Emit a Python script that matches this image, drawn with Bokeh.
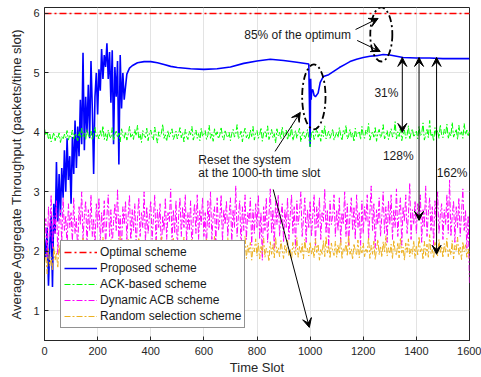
from bokeh.plotting import figure
from bokeh.models import Range1d, Legend, LegendItem, Arrow, VeeHead, Label, FixedTicker
from bokeh.embed import file_html
from bokeh.resources import INLINE

# ---------------- data ----------------
x_ticks = [0, 200, 400, 600, 800, 1000, 1200, 1400, 1600]
y_ticks = [1, 2, 3, 4, 5, 6]

opt_x = [0, 1600]
opt_y = [6.0, 6.0]

prop_x = [0, 5, 10, 15, 20, 25, 30, 35, 40, 45, 50, 55, 60, 65, 70, 75, 80, 85, 90, 95,
          100, 105, 110, 115, 120, 125, 130, 135, 140, 145, 150, 155, 160, 165, 170, 175, 180, 185, 190, 195,
          200, 205, 210, 215, 220, 225, 230, 235, 240, 245, 250, 255, 260, 265, 270, 275, 280, 285, 290, 295,
          300, 310, 320, 330, 350, 375, 400, 425, 450, 475, 500, 550, 600, 650, 700, 750, 800, 850, 900, 950, 995,
          1000, 1002, 1004, 1006, 1010, 1015, 1020, 1030, 1038, 1050, 1070, 1090, 1110, 1130, 1150, 1175, 1200,
          1225, 1250, 1275, 1300, 1350, 1400, 1450, 1500, 1550, 1600]
prop_y = [2.20, 1.90, 2.40, 1.42, 2.10, 2.60, 1.40, 2.80, 2.30, 3.50, 2.50, 3.30, 2.60, 3.40, 2.90, 3.70, 3.00, 3.90, 3.20, 3.60,
          2.80, 3.92, 3.30, 4.20, 3.40, 4.10, 3.60, 4.55, 3.80, 5.34, 3.70, 4.60, 4.00, 4.80, 3.90, 5.20, 4.40, 3.30, 4.60, 5.00,
          4.30, 5.06, 4.70, 5.40, 4.90, 5.30, 5.10, 5.50, 4.90, 5.35, 4.50, 5.38, 3.80, 5.10, 4.60, 5.20, 3.46, 5.30, 4.40, 5.00,
          4.55, 4.98, 5.08, 5.12, 5.17, 5.19, 5.19, 5.17, 5.14, 5.11, 5.09, 5.07, 5.06, 5.07, 5.10, 5.16, 5.20, 5.23, 5.21, 5.18, 5.15,
          3.76, 4.90, 4.55, 4.70, 4.72, 4.62, 4.60, 4.66, 4.84, 4.94, 4.97, 5.03, 5.09, 5.14, 5.19, 5.23, 5.26,
          5.28, 5.29, 5.31, 5.30, 5.26, 5.25, 5.25, 5.24, 5.24, 5.24]

slot = list(range(0, 1601, 5))

ack = [4.06, 3.95, 4.02, 3.88, 3.97, 3.84, 3.92, 4.00, 3.86, 3.94, 3.90, 3.99, 3.83, 3.93, 3.88, 3.97, 3.91, 4.03, 3.87, 3.96,
       3.92, 4.04, 3.89, 3.98, 3.94, 3.86, 4.01, 3.90, 4.07, 3.93, 3.99, 3.88, 4.05, 3.95, 3.91, 4.02, 3.87, 3.97, 4.09, 3.92,
       3.96, 3.89, 4.03, 3.93, 4.11, 3.88, 3.98, 3.85, 4.04, 3.94, 3.90, 4.08, 3.86, 3.97, 4.02, 3.91, 3.99, 3.84, 4.06, 3.95,
       3.90, 4.01, 3.87, 3.96, 4.10, 3.92, 3.98, 3.88, 4.05, 3.94, 4.12, 3.89, 3.97, 3.83, 4.03, 3.95, 3.91, 4.07, 3.86, 3.99,
       4.04, 3.92, 3.87, 4.09, 3.95, 3.82, 4.01, 3.93, 3.98, 4.14, 3.90, 3.96, 3.85, 4.03, 3.92, 3.99, 4.06, 3.88, 3.94, 4.02,
       3.89, 3.97, 4.08, 3.91, 3.99, 3.84, 4.05, 3.93, 3.88, 4.02, 3.96, 4.10, 3.87, 3.95, 4.04, 3.90, 3.98, 3.86, 4.07, 3.93,
       3.97, 4.03, 3.88, 3.95, 4.12, 3.90, 3.99, 3.85, 4.06, 3.94, 4.01, 3.89, 3.96, 4.09, 3.92, 3.87, 4.04, 3.95, 3.91, 4.00,
       3.86, 3.98, 4.05, 3.92, 3.97, 4.13, 3.89, 3.94, 4.02, 3.84, 3.99, 4.07, 3.91, 3.96, 3.88, 4.04, 3.93, 4.10, 3.87, 3.98,
       4.03, 3.90, 3.96, 4.08, 3.85, 3.99, 4.02, 3.92, 4.11, 3.88, 3.95, 4.05, 3.91, 3.98, 3.82, 4.06, 3.94, 4.00, 3.89, 4.09,
       3.93, 3.97, 4.04, 3.87, 3.99, 3.92, 4.10, 3.86, 3.95, 4.03, 3.90, 3.98, 4.07, 3.84, 3.96, 4.01, 3.89, 3.94, 4.05, 3.91,
       3.76, 3.98, 4.03, 3.88, 3.95, 4.08, 3.92, 3.99, 3.85, 4.04, 3.93, 4.11, 3.89, 3.96, 4.02, 3.90, 3.97, 4.06, 3.87, 3.94,
       4.00, 3.91, 4.08, 3.95, 3.86, 4.03, 3.97, 4.12, 3.89, 3.94, 4.05, 3.92, 3.99, 3.84, 4.07, 3.93, 3.98, 4.02, 3.88, 4.10,
       3.95, 3.90, 4.04, 3.97, 4.15, 3.87, 3.96, 4.01, 3.92, 4.08, 3.85, 3.99, 4.05, 3.91, 3.97, 4.13, 3.89, 3.94, 4.03, 3.88,
       3.98, 4.06, 3.92, 3.96, 4.18, 3.89, 4.01, 3.93, 4.09, 3.86, 3.97, 4.04, 3.90, 3.95, 4.11, 3.88, 3.99, 4.06, 3.92, 3.97,
       4.02, 3.89, 4.10, 3.94, 3.98, 4.16, 3.87, 3.96, 4.05, 3.91, 4.20, 3.93, 3.99, 3.85, 4.08, 3.95, 4.03, 3.90, 4.13, 3.96,
       3.91, 4.05, 3.97, 4.14, 3.89, 4.00, 3.94, 4.17, 3.92, 3.98, 4.06, 3.88, 4.12, 3.95, 4.01, 3.90, 4.15, 3.96, 4.04, 3.93,
       4.02]

dyn_acb = [2.10, 2.55, 1.90, 2.75, 2.25, 2.95, 2.05, 2.60, 2.30, 2.85, 1.95, 2.50, 2.70, 2.15, 2.90, 2.35, 2.60, 2.05, 2.80, 2.40,
           2.65, 2.15, 2.90, 2.30, 2.55, 2.00, 2.75, 2.45, 3.00, 2.20, 2.60, 2.85, 2.10, 2.70, 2.35, 2.95, 2.25, 2.55, 2.05, 2.80,
           2.40, 2.90, 2.15, 2.65, 2.30, 2.85, 2.05, 2.60, 2.95, 2.25, 2.70, 2.10, 2.50, 2.80, 2.35, 3.05, 2.20, 2.60, 2.00, 2.75,
           2.45, 2.85, 2.20, 2.60, 2.95, 2.10, 2.70, 2.35, 2.80, 2.05, 2.55, 2.90, 2.25, 2.65, 2.40, 3.00, 2.15, 2.75, 2.30, 2.60,
           2.85, 2.20, 2.55, 2.95, 2.10, 2.70, 2.40, 2.80, 1.95, 2.60, 2.35, 2.90, 2.20, 2.65, 2.50, 3.05, 2.15, 2.70, 2.30, 2.85,
           2.05, 2.60, 2.90, 2.25, 2.75, 2.40, 2.95, 2.15, 2.65, 2.35, 2.85, 2.00, 2.55, 2.80, 2.30, 2.95, 2.20, 2.70, 2.45, 2.90,
           2.25, 2.65, 2.05, 2.85, 2.40, 3.00, 2.20, 2.60, 2.75, 2.10, 2.90, 2.35, 2.55, 2.95, 2.15, 2.70, 2.45, 2.85, 2.25, 2.60,
           2.90, 2.15, 2.70, 2.40, 3.10, 2.25, 2.60, 2.85, 2.05, 2.75, 2.35, 2.95, 2.20, 2.65, 2.50, 2.90, 2.10, 2.70, 2.30, 2.80,
           2.40, 2.95, 2.20, 2.65, 1.85, 2.75, 2.35, 2.90, 2.15, 2.60, 3.05, 2.30, 2.70, 2.05, 2.85, 2.45, 2.95, 2.25, 2.60, 2.80,
           2.15, 2.70, 2.40, 2.90, 2.20, 2.60, 2.95, 2.30, 2.75, 2.05, 2.85, 2.45, 2.65, 3.00, 2.25, 2.55, 2.90, 2.15, 2.70, 2.40,
           2.85, 2.25, 2.60, 2.95, 2.10, 2.75, 2.40, 2.90, 2.20, 2.65, 2.50, 3.05, 2.30, 2.70, 2.05, 2.85, 2.45, 2.60, 2.95, 2.25,
           2.70, 2.35, 2.90, 2.15, 2.65, 2.45, 3.00, 2.25, 2.80, 2.10, 2.60, 2.90, 2.35, 2.75, 2.20, 2.95, 2.40, 2.65, 2.10, 2.85,
           2.30, 2.75, 2.50, 2.95, 2.20, 2.65, 3.10, 2.35, 2.80, 2.05, 2.70, 2.45, 2.90, 2.25, 2.60, 3.00, 2.30, 2.75, 2.15, 2.85,
           2.45, 2.95, 2.20, 2.70, 2.40, 3.05, 2.25, 2.65, 2.90, 2.10, 2.75, 2.50, 2.95, 2.30, 2.60, 3.15, 2.20, 2.70, 2.45, 2.85,
           2.30, 2.80, 2.55, 2.95, 2.15, 2.70, 2.40, 3.10, 2.25, 2.65, 2.90, 2.35, 2.75, 2.10, 2.85, 2.50, 3.00, 2.30, 2.60, 2.80,
           2.20, 2.70, 2.45, 2.95, 2.30, 3.20, 2.25, 2.60, 2.85, 2.15, 2.75, 2.40, 2.90, 2.25, 2.65, 3.05, 2.35, 2.70, 2.05, 2.60,
           1.45]

rand_sel = [1.80, 1.95, 1.62, 2.05, 1.75, 1.90, 1.68, 2.08, 1.85, 1.98, 1.72, 2.10, 1.88, 2.02, 1.80, 2.15, 1.92, 2.05, 1.85, 2.12,
            1.95, 2.08, 1.86, 2.18, 1.92, 2.03, 1.83, 2.14, 1.97, 2.22, 1.89, 2.06, 1.94, 2.17, 1.87, 2.10, 2.00, 1.91, 2.20, 1.96,
            2.07, 1.88, 2.15, 1.95, 2.24, 1.90, 2.05, 1.84, 2.13, 1.98, 2.20, 1.92, 2.09, 1.86, 2.16, 2.01, 1.93, 2.25, 1.97, 2.08,
            1.89, 2.12, 1.96, 2.21, 1.85, 2.06, 1.99, 2.18, 1.91, 2.10, 1.87, 2.23, 2.02, 1.94, 2.14, 1.88, 2.19, 1.96, 2.07, 1.90,
            2.15, 1.93, 2.04, 1.86, 2.20, 1.98, 2.11, 1.89, 2.26, 1.95, 2.08, 1.84, 2.16, 2.00, 1.92, 2.13, 1.97, 2.22, 1.90, 2.05,
            1.94, 2.18, 1.87, 2.09, 2.01, 2.24, 1.91, 2.06, 1.85, 2.15, 1.98, 2.20, 1.89, 2.11, 1.95, 2.03, 1.86, 2.17, 2.00, 1.93,
            2.12, 1.90, 2.21, 1.97, 2.07, 1.84, 2.16, 1.95, 2.25, 1.92, 2.04, 1.88, 2.14, 1.99, 2.19, 1.87, 2.08, 1.96, 2.23, 1.91,
            2.05, 1.97, 2.13, 1.86, 2.20, 1.94, 2.09, 1.89, 2.17, 2.02, 1.93, 2.26, 1.88, 2.10, 1.98, 2.15, 1.85, 2.06, 1.99, 2.21,
            1.92, 2.14, 1.87, 2.08, 1.96, 2.22, 1.90, 2.05, 2.00, 1.83, 2.16, 1.95, 2.11, 1.89, 2.24, 1.97, 2.06, 1.91, 2.18, 2.02,
            1.88, 2.10, 1.97, 2.19, 1.93, 2.04, 1.86, 2.15, 2.01, 1.94, 2.23, 1.90, 2.08, 1.96, 2.13, 1.87, 2.20, 1.99, 2.05, 1.92,
            2.16, 1.95, 2.07, 1.89, 2.21, 1.98, 2.12, 1.85, 2.03, 1.94, 2.18, 1.91, 2.25, 1.97, 2.09, 1.88, 2.14, 2.00, 1.93, 2.17,
            1.90, 2.11, 1.96, 2.22, 1.87, 2.06, 1.99, 2.15, 1.92, 2.27, 1.95, 2.04, 1.86, 2.13, 2.01, 1.93, 2.19, 1.89, 2.08, 1.97,
            2.14, 1.91, 2.05, 1.98, 2.24, 1.88, 2.10, 1.95, 2.17, 1.86, 2.03, 2.20, 1.94, 2.09, 1.90, 2.16, 1.99, 2.26, 1.92, 2.06,
            1.96, 2.12, 1.87, 2.19, 2.00, 1.93, 2.15, 1.89, 2.23, 1.97, 2.07, 1.85, 2.14, 1.98, 2.21, 1.91, 2.04, 1.95, 2.18, 1.88,
            2.10, 1.94, 2.25, 1.99, 2.06, 1.86, 2.17, 1.93, 2.12, 1.90, 2.28, 1.96, 2.03, 1.88, 2.15, 2.01, 1.92, 2.20, 1.97, 2.09,
            1.89, 2.13, 1.98, 2.22, 1.91, 2.05, 1.94, 2.18, 1.87, 2.10, 2.00, 2.24, 1.93, 2.07, 1.86, 2.16, 1.99, 2.11, 1.90, 2.04,
            1.88]

labels = ["Optimal scheme", "Proposed scheme", "ACK-based scheme", "Dynamic ACB scheme", "Random selection scheme"]

# ---------------- annotation geometry (data units) ----------------
ell_x = [1268, 1014]
ell_y = [5.647, 4.597]
ell_w = [83, 88]
ell_h = [0.91, 1.09]

FONT = "Liberation Sans"
TXT = "#262626"

p = figure(width=481, height=377, x_range=Range1d(0, 1600), y_range=Range1d(0.5, 6.1),
           output_backend="svg", toolbar_location=None,
           min_border_left=44, min_border_right=12, min_border_top=7, min_border_bottom=35)
p.background_fill_color = "white"
p.border_fill_color = "white"
p.outline_line_color = TXT

p.xaxis.ticker = FixedTicker(ticks=x_ticks)
p.yaxis.ticker = FixedTicker(ticks=y_ticks)
for ax in (p.xaxis[0], p.yaxis[0]):
    ax.major_tick_in = 4
    ax.major_tick_out = 0
    ax.minor_tick_in = 0
    ax.minor_tick_out = 0
    ax.axis_line_color = TXT
    ax.major_tick_line_color = TXT
    ax.major_label_text_font = FONT
    ax.major_label_text_font_size = "11px"
    ax.major_label_text_color = TXT
    ax.axis_label_text_font = FONT
    ax.axis_label_text_font_size = "13px"
    ax.axis_label_text_font_style = "normal"
    ax.axis_label_text_color = TXT
p.xaxis.axis_label = "Time Slot"
p.yaxis.axis_label = "Average Aggregate Throughput (packets/time slot)"
p.xaxis.major_label_standoff = 6
p.xaxis.axis_label_standoff = 2
p.yaxis.major_label_standoff = 5
p.yaxis.axis_label_standoff = 6

p.xgrid.grid_line_color = "#E3E3E3"
p.ygrid.grid_line_color = "#E3E3E3"
p.xgrid.ticker = FixedTicker(ticks=x_ticks)
p.ygrid.ticker = FixedTicker(ticks=y_ticks)

n = min(len(slot), len(ack), len(dyn_acb), len(rand_sel))
r_opt = p.line(opt_x, opt_y, line_color="#FF0000", line_width=1.6, line_dash="7 3 2 3")
r_prop = p.line(prop_x, prop_y, line_color="#0000FF", line_width=1.6)
r_ack = p.line(slot[:n], ack[:n], line_color="#00FF00", line_width=1.0, line_dash="6 2 2 2")
r_dyn = p.line(slot[:n], dyn_acb[:n], line_color="#FF00FF", line_width=1.0, line_dash="6 2 2 2")
r_rand = p.line(slot[:n], rand_sel[:n], line_color="#EDB120", line_width=1.0, line_dash="6 2 2 2")

# ellipses
p.ellipse(x=ell_x, y=ell_y, width=ell_w, height=ell_h, fill_color=None,
          line_color="black", line_width=1.8, line_dash="7 3 2 3")

def head():
    return VeeHead(size=9, fill_color="black", line_color="black", line_width=1)

arrows = [
    (1171, 5.73, 1256, 5.916, False),
    (1177, 5.546, 1264, 5.361, False),
    (868, 3.68, 963, 4.336, False),
    (861, 3.04, 997, 0.72, False),
    (1347, 5.26, 1347, 4.00, True),
    (1410, 5.26, 1410, 2.52, True),
    (1476, 5.26, 1476, 1.95, True),
]
for xs, ys, xe, ye, dbl in arrows:
    a = Arrow(x_start=xs, y_start=ys, x_end=xe, y_end=ye, end=head(),
              start=head() if dbl else None, line_color="black", line_width=1)
    p.add_layout(a)

texts = [
    ("85% of the optimum", 752, 5.63),
    ("Reset the system", 579, 3.53),
    ("at the 1000-th time slot", 579, 3.31),
    ("31%", 1242, 4.655),
    ("128%", 1274, 3.61),
    ("162%", 1477, 3.31),
]
for t, tx, ty in texts:
    p.add_layout(Label(x=tx, y=ty, text=t, text_font=FONT, text_font_size="12px",
                       text_color="#1A1A1A", text_baseline="middle", text_align="left"))

legend = Legend(items=[LegendItem(label=labels[0], renderers=[r_opt]),
                       LegendItem(label=labels[1], renderers=[r_prop]),
                       LegendItem(label=labels[2], renderers=[r_ack]),
                       LegendItem(label=labels[3], renderers=[r_dyn]),
                       LegendItem(label=labels[4], renderers=[r_rand])],
                location=(16, 12), border_line_color=TXT, border_line_width=1,
                background_fill_color="white", background_fill_alpha=1,
                label_text_font=FONT, label_text_font_size="12px", label_text_color="#1A1A1A",
                glyph_width=33, glyph_height=16, label_height=16, spacing=0, padding=3,
                label_standoff=3, margin=0)
p.add_layout(legend)

open("out.html", "w").write(file_html(p, INLINE))
